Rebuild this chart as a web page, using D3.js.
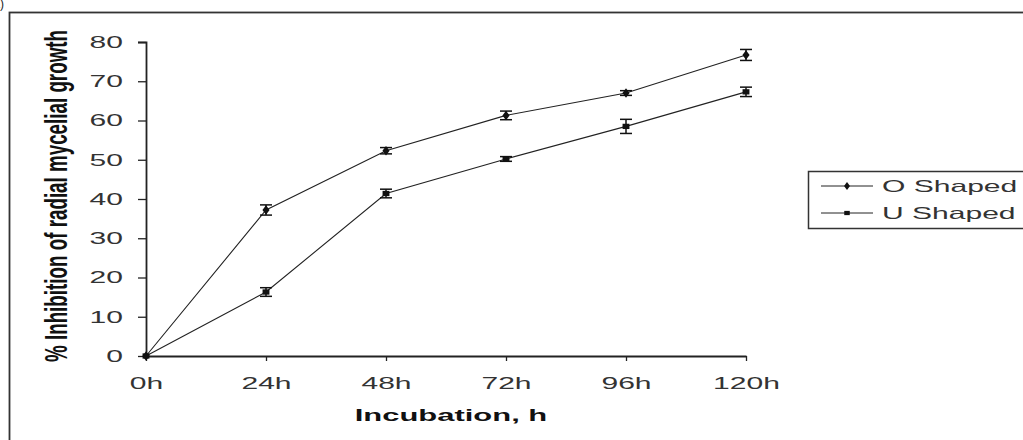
<!DOCTYPE html>
<html>
<head>
<meta charset="utf-8">
<script src="https://cdn.jsdelivr.net/npm/d3@7"></script>
<style>
  body { margin: 0; background: #fff; }
  svg { display: block; }
  text { font-family: Arial, "Liberation Sans", sans-serif; fill: #222; }
</style>
</head>
<body>
<svg width="1023" height="440"></svg>
<script>
// data
const hours = ["0h", "24h", "48h", "72h", "96h", "120h"];
const oShaped = [0, 37.2, 52.3, 61.3, 67.0, 76.7];
const oErr = [0, 1.3, 0.8, 1.1, 0.6, 1.4];
const uShaped = [0, 16.3, 41.4, 50.2, 58.5, 67.3];
const uErr = [0, 1.1, 1.1, 0.6, 1.8, 1.2];
const yTicks = [0, 10, 20, 30, 40, 50, 60, 70, 80];
const seriesNames = ["O Shaped", "U Shaped"];

const svg = d3.select("svg");
const WIDE = 1.82; // the source picture is stretched sideways

// widen text glyphs sideways
function stretch(sel, f) {
  sel.each(function () {
    const w = this.getComputedTextLength();
    d3.select(this).attr("textLength", w * f).attr("lengthAdjust", "spacingAndGlyphs");
  });
}

// outer frame (runs off right/bottom)
svg.append("rect").attr("x", 9.5).attr("y", 12.5).attr("width", 1040).attr("height", 460)
  .attr("fill", "none").attr("stroke", "#333").attr("stroke-width", 1.8);
svg.append("text").attr("x", 4).attr("y", 8).attr("text-anchor", "end")
  .style("font-size", "12px").text("(a)");

const x = d3.scalePoint().domain(hours).range([146, 746]);
const y = d3.scaleLinear().domain([0, 80]).range([356, 42]);

// y axis
const yAxis = svg.append("g").attr("transform", "translate(146,0)")
  .call(d3.axisLeft(y).tickValues(yTicks).tickSize(8).tickPadding(15));
yAxis.select(".domain").attr("d", "M-8,42.5H0.5V356.5");
yAxis.selectAll("line").attr("stroke", "#222").attr("stroke-width", 1.3);
yAxis.selectAll(".domain").attr("stroke", "#222").attr("stroke-width", 1.8);
yAxis.selectAll("text").attr("font-family", null).attr("font-size", null)
  .style("font-size", "16.5px").style("fill", "#333").call(stretch, WIDE);

// x axis
const xAxis = svg.append("g").attr("transform", "translate(0,356)")
  .call(d3.axisBottom(x).tickSize(5).tickSizeOuter(0).tickPadding(16));
xAxis.selectAll(".domain").attr("stroke", "#222").attr("stroke-width", 1.8);
xAxis.selectAll("line").attr("stroke", "#222").attr("stroke-width", 1.3);
xAxis.selectAll("text").attr("font-family", null).attr("font-size", null)
  .style("font-size", "16.5px").style("fill", "#333").call(stretch, WIDE);

// axis titles
svg.append("text").attr("x", 451).attr("y", 421).attr("text-anchor", "middle")
  .style("font-size", "17px").style("font-weight", "bold").style("fill", "#111")
  .text("Incubation, h").call(stretch, WIDE);
svg.append("text").attr("transform", `translate(67,196) scale(${WIDE},1) rotate(-90)`)
  .attr("text-anchor", "middle").style("font-size", "17px").style("font-weight", "bold")
  .style("fill", "#111")
  .attr("textLength", 332).attr("lengthAdjust", "spacingAndGlyphs")
  .text("% Inhibition of radial mycelial growth");

const line = d3.line().x((d, i) => x(hours[i])).y(d => y(d));

function drawSeries(vals, errs, shape) {
  const g = svg.append("g");
  g.append("path").datum(vals).attr("d", line)
    .attr("fill", "none").attr("stroke", "#222").attr("stroke-width", 1.1);
  vals.forEach((d, i) => {
    if (!errs[i]) return;
    const cx = x(hours[i]), top = y(d + errs[i]), bot = y(d - errs[i]);
    g.append("line").attr("x1", cx).attr("x2", cx).attr("y1", top).attr("y2", bot)
      .attr("stroke", "#111").attr("stroke-width", 1.5);
    [top, bot].forEach(v => g.append("line").attr("x1", cx - 6).attr("x2", cx + 6)
      .attr("y1", v).attr("y2", v).attr("stroke", "#111").attr("stroke-width", 1.5));
  });
  g.selectAll(".pt").data(vals).enter().append("path")
    .attr("transform", (d, i) => `translate(${x(hours[i])},${y(d)}) scale(1.3,1)`)
    .attr("d", d3.symbol().type(shape).size(shape === d3.symbolSquare ? 28 : 26))
    .attr("fill", "#111");
}
drawSeries(oShaped, oErr, d3.symbolDiamond);
drawSeries(uShaped, uErr, d3.symbolSquare);

// legend
const lg = svg.append("g");
lg.append("rect").attr("x", 808.5).attr("y", 171.5).attr("width", 230).attr("height", 57)
  .attr("fill", "#fff").attr("stroke", "#333").attr("stroke-width", 1.5);
const shapes = [d3.symbolDiamond, d3.symbolSquare];
seriesNames.forEach((name, i) => {
  const ly = 186 + i * 27;
  lg.append("line").attr("x1", 821).attr("x2", 873).attr("y1", ly).attr("y2", ly)
    .attr("stroke", "#222");
  lg.append("path").attr("transform", `translate(847,${ly}) scale(1.3,1)`)
    .attr("d", d3.symbol().type(shapes[i]).size(i ? 18 : 18)).attr("fill", "#111");
  lg.append("text").attr("x", 882).attr("y", ly + 6).style("font-size", "16.5px")
    .style("fill", "#333").text(name).call(stretch, WIDE);
});
</script>
</body>
</html>
